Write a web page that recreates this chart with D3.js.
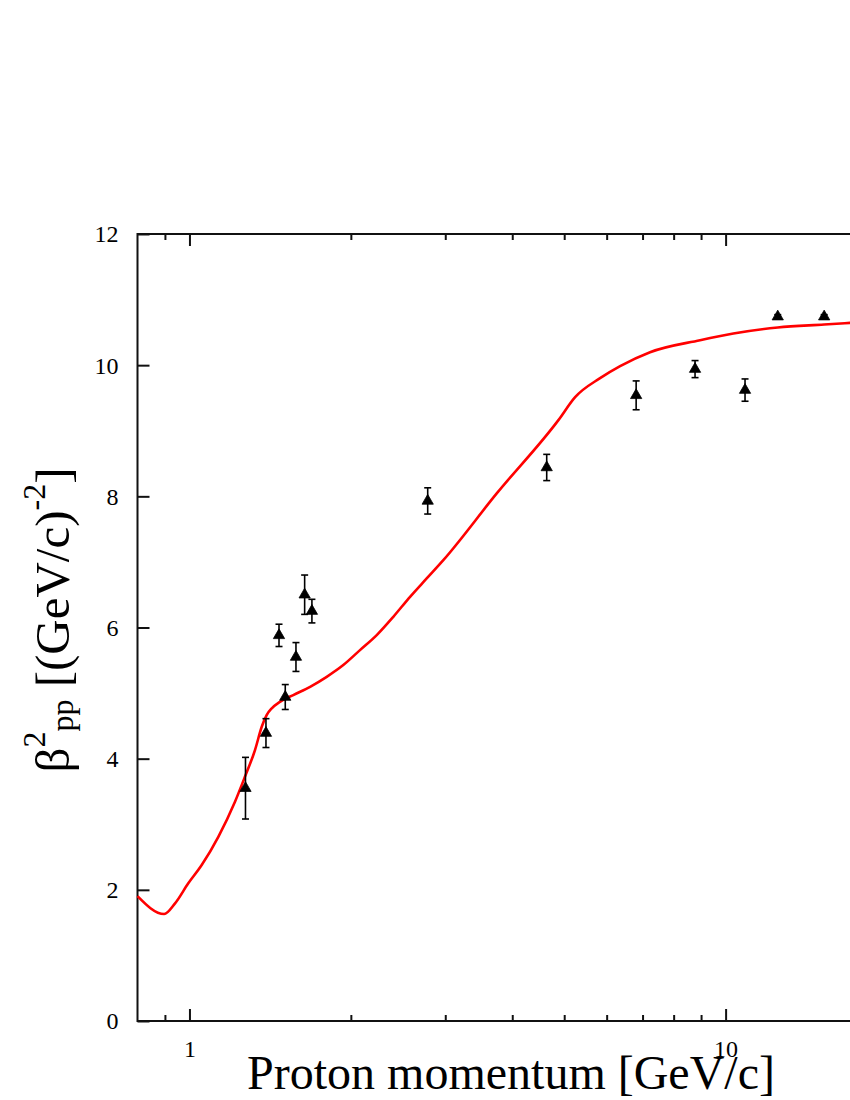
<!DOCTYPE html>
<html>
<head>
<meta charset="utf-8">
<script src="https://cdn.jsdelivr.net/npm/d3@7"></script>
<style>
  body { margin: 0; background: #fff; }
  svg { display: block; }
  text { font-family: "Liberation Serif", "DejaVu Serif", serif; fill: #000; }
</style>
</head>
<body>
<svg id="chart" width="850" height="1100"></svg>
<script>
// ---- data ----
const curveP    = [0.80, 0.897, 0.940, 0.995, 1.054, 1.132, 1.216, 1.269, 1.325, 1.364, 1.393, 1.424, 1.475, 1.562, 1.679, 1.803, 1.936, 2.080, 2.235, 2.400, 2.579, 2.770, 2.975, 3.742, 4.877, 5.240, 5.833, 6.357, 7.229, 8.962, 10.34, 12.51, 15.27, 17.07, 20.0];
const curveBeta = [1.905, 1.631, 1.794, 2.099, 2.378, 2.809, 3.343, 3.724, 4.131, 4.486, 4.665, 4.767, 4.867, 4.970, 5.096, 5.248, 5.427, 5.655, 5.884, 6.163, 6.468, 6.748, 7.027, 8.044, 9.162, 9.512, 9.802, 9.985, 10.198, 10.381, 10.483, 10.575, 10.620, 10.645, 10.68];

const dataP    = [1.272, 1.389, 1.469, 1.509, 1.580, 1.640, 1.692, 2.782, 4.638, 6.81, 8.77, 10.87, 12.51, 15.27];
const dataBeta = [3.55, 4.39, 5.88, 4.94, 5.55, 6.50, 6.25, 7.93, 8.44, 9.54, 9.94, 9.62, 10.74, 10.74];
const dataErr  = [0.47, 0.22, 0.17, 0.19, 0.22, 0.30, 0.18, 0.20, 0.20, 0.22, 0.13, 0.17, 0.03, 0.03];

const xMajorTicks = [1, 10];
const xMajorLabels = ["1", "10"];
const xMinorTicks = [0.9, 2, 3, 4, 5, 6, 7, 8, 9, 20];
const yTicks = [0, 2, 4, 6, 8, 10, 12];

const xDomain = [0.8, 20];
const yDomain = [0, 12];

// ---- layout ----
const L = 137.5, R = 887, T = 234, B = 1021;
const svg = d3.select("#chart");

const x = d3.scaleLog().domain(xDomain).range([L, R]);
const y = d3.scaleLinear().domain(yDomain).range([B, T]);

// frame
svg.append("rect").attr("x", L).attr("y", T).attr("width", R - L).attr("height", B - T)
  .attr("fill", "none").attr("stroke", "#111").attr("stroke-width", 2);

function styleAxis(g) {
  g.select(".domain").remove();
  g.selectAll(".tick line").attr("stroke", "#111").attr("stroke-width", 2);
}

// bottom major axis
const gB = svg.append("g").attr("transform", `translate(0,${B})`)
  .call(d3.axisBottom(x).tickValues(xMajorTicks).tickSize(-12)
    .tickFormat((d, i) => xMajorLabels[i]));
styleAxis(gB);
gB.selectAll(".tick text").attr("y", 36).attr("dy", null)
  .style("font-size", "24px").style("font-family", "Liberation Serif, serif").attr("fill", "#000");

// bottom minor
const gBm = svg.append("g").attr("transform", `translate(0,${B})`)
  .call(d3.axisBottom(x).tickValues(xMinorTicks).tickSize(-6).tickFormat(""));
styleAxis(gBm);

// top major/minor
const gT = svg.append("g").attr("transform", `translate(0,${T})`)
  .call(d3.axisTop(x).tickValues(xMajorTicks).tickSize(-12).tickFormat(""));
styleAxis(gT);
const gTm = svg.append("g").attr("transform", `translate(0,${T})`)
  .call(d3.axisTop(x).tickValues(xMinorTicks).tickSize(-6).tickFormat(""));
styleAxis(gTm);

// left axis
const gL = svg.append("g").attr("transform", `translate(${L},0)`)
  .call(d3.axisLeft(y).tickValues(yTicks).tickSize(-12).tickPadding(19).tickFormat(d3.format("d")));
styleAxis(gL);
gL.selectAll(".tick text").style("font-size", "24px").style("font-family", "Liberation Serif, serif")
  .attr("fill", "#000").attr("dy", "0.33em");

// right axis
const gR = svg.append("g").attr("transform", `translate(${R},0)`)
  .call(d3.axisRight(y).tickValues(yTicks).tickSize(-12).tickFormat(""));
styleAxis(gR);

// curve
const curveData = curveP.map((p, i) => ({ p, b: curveBeta[i] }));
svg.append("path").datum(curveData)
  .attr("fill", "none").attr("stroke", "#ff0000").attr("stroke-width", 2.6)
  .attr("stroke-linejoin", "round")
  .attr("d", d3.line().x(d => x(d.p)).y(d => y(d.b)).curve(d3.curveMonotoneX));

// data points
const pts = dataP.map((p, i) => ({ p, b: dataBeta[i], e: dataErr[i] }));
const gP = svg.append("g");
const cap = 3.5;
pts.forEach(d => {
  const cx = x(d.p), y1 = y(d.b + d.e), y2 = y(d.b - d.e);
  gP.append("line").attr("x1", cx).attr("x2", cx).attr("y1", y1).attr("y2", y2)
    .attr("stroke", "#000").attr("stroke-width", 1.6);
  gP.append("line").attr("x1", cx - cap).attr("x2", cx + cap).attr("y1", y1).attr("y2", y1)
    .attr("stroke", "#000").attr("stroke-width", 1.6);
  gP.append("line").attr("x1", cx - cap).attr("x2", cx + cap).attr("y1", y2).attr("y2", y2)
    .attr("stroke", "#000").attr("stroke-width", 1.6);
});
gP.selectAll("path.mk").data(pts).enter().append("path").attr("class", "mk")
  .attr("transform", d => `translate(${x(d.p)},${y(d.b)})`)
  .attr("d", d3.symbol().type(d3.symbolTriangle).size(55))
  .attr("fill", "#000").attr("stroke", "#000").attr("stroke-width", 0.8).attr("stroke-linejoin", "round");

// x title
svg.append("text").attr("x", 511).attr("y", 1089).attr("text-anchor", "middle")
  .style("font-size", "48px").text("Proton momentum [GeV/c]");

// y title
const yt = svg.append("text").attr("transform", "translate(69,620) rotate(-90)")
  .attr("text-anchor", "middle").style("font-size", "49px");
yt.append("tspan").text("β");
yt.append("tspan").attr("dy", -24).style("font-size", "32px").text("2");
yt.append("tspan").attr("dy", 28).style("font-size", "32px").text("pp");
yt.append("tspan").attr("dy", -4).text(" [(GeV/c)");
yt.append("tspan").attr("dy", -24).style("font-size", "32px").text("-2");
yt.append("tspan").attr("dy", 24).text("]");
</script>
</body>
</html>
